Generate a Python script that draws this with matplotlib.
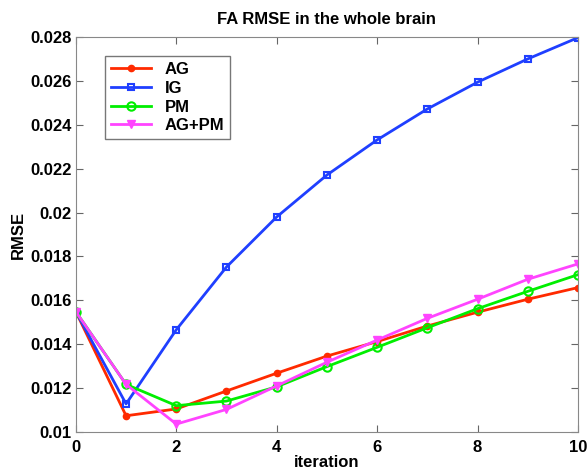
import matplotlib.pyplot as plt

plt.rcParams['font.family'] = ['Liberation Sans', 'DejaVu Sans']
plt.rcParams['font.weight'] = 'bold'

# iteraciones y valores de RMSE por metodo
iteracion = list(range(11))
ag = [0.01548, 0.01074, 0.01105, 0.01187, 0.01268, 0.01346, 0.01412, 0.01483, 0.01546, 0.01605, 0.01658]
ig = [0.01548, 0.01128, 0.01466, 0.01752, 0.01980, 0.02171, 0.02331, 0.02472, 0.02594, 0.02700, 0.02797]
pm = [0.01548, 0.01217, 0.01120, 0.01141, 0.01206, 0.01298, 0.01386, 0.01475, 0.01562, 0.01641, 0.01717]
ag_pm = [0.01548, 0.01217, 0.01036, 0.01103, 0.01210, 0.01318, 0.01419, 0.01518, 0.01605, 0.01696, 0.01766]

xticks = [0, 2, 4, 6, 8, 10]
yticks = [0.01, 0.012, 0.014, 0.016, 0.018, 0.02, 0.022, 0.024, 0.026, 0.028]
ytick_labels = ['0.01', '0.012', '0.014', '0.016', '0.018', '0.02', '0.022', '0.024', '0.026', '0.028']

fig = plt.figure(figsize=(5.88, 4.74), dpi=100)
ax = fig.add_axes([0.129, 0.0886, 0.854, 0.8334])

ax.plot(iteracion, ag, color='#ff2a00', marker='o', markersize=4.5, linewidth=2, label='AG')
ax.plot(iteracion, ig, color='#1f3fff', marker='s', markersize=5, markerfacecolor='none',
        markeredgewidth=1.5, linewidth=2, label='IG')
ax.plot(iteracion, pm, color='#00ee00', marker='o', markersize=6, markerfacecolor='none',
        markeredgewidth=1.5, linewidth=2, label='PM')
ax.plot(iteracion, ag_pm, color='#ff44ff', marker='v', markersize=6, linewidth=2, label='AG+PM')

ax.set_xlim(0, 10)
ax.set_ylim(0.01, 0.028)
ax.set_xticks(xticks)
ax.set_yticks(yticks)
ax.set_yticklabels(ytick_labels)
ax.tick_params(direction='in', top=True, right=True, labelsize=12, length=5, color='#666666')
ax.tick_params(axis='x', pad=6)
ax.tick_params(axis='y', pad=3)
for label in ax.get_xticklabels() + ax.get_yticklabels():
    label.set_fontweight('bold')
for spine in ax.spines.values():
    spine.set_color('#888888')

ax.set_title('FA RMSE in the whole brain', fontsize=12, fontweight='bold', pad=9)
ax.set_xlabel('iteration', fontsize=12, fontweight='bold', labelpad=0)
ax.set_ylabel('RMSE', fontsize=12, fontweight='bold', labelpad=3)

leg = ax.legend(loc='upper left', bbox_to_anchor=(0.042, 0.972), fontsize=12, fancybox=False,
                framealpha=1, borderpad=0.35, labelspacing=0.22, handlelength=2.4)
leg.get_frame().set_edgecolor('#777777')
leg.get_frame().set_linewidth(1)

plt.savefig('out.png', dpi=100)
plt.close()
